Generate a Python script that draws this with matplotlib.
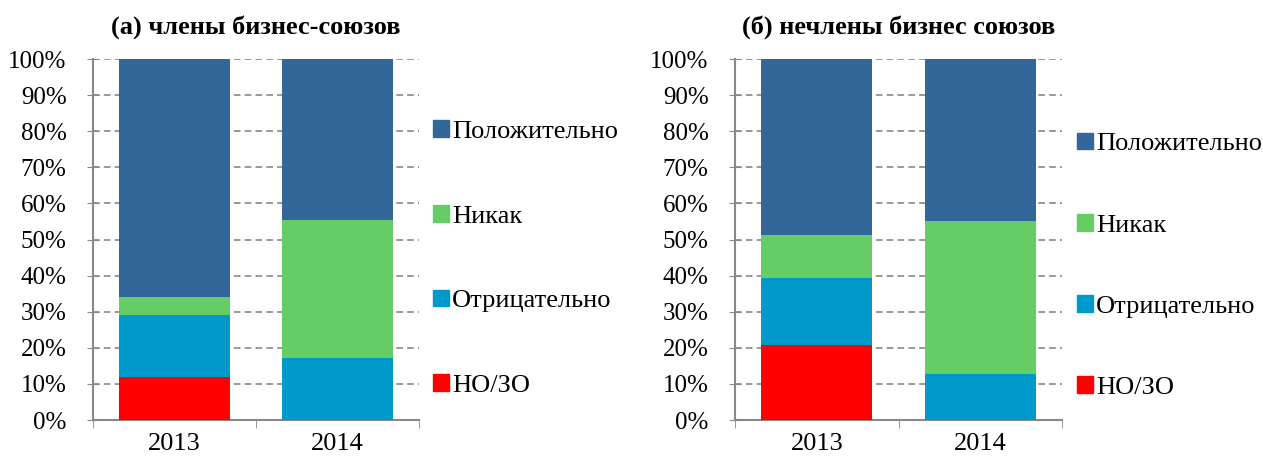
import numpy as np
import matplotlib.pyplot as plt
from matplotlib.patches import Patch

plt.rcParams['font.family'] = ['Liberation Serif', 'DejaVu Serif']

years = ['2013', '2014']
categories = ['НО/ЗО', 'Отрицательно', 'Никак', 'Положительно']
colors = ['#FF0000', '#0099CC', '#66CC66', '#336699']

# shares, % (bottom to top)
members = {
    'НО/ЗО': [12.0, 0.0],
    'Отрицательно': [17.0, 17.3],
    'Никак': [5.0, 38.1],
    'Положительно': [66.0, 44.6],
}
nonmembers = {
    'НО/ЗО': [20.8, 0.0],
    'Отрицательно': [18.6, 12.8],
    'Никак': [11.8, 42.3],
    'Положительно': [48.8, 44.9],
}

titles = ['(а) члены бизнес-союзов', '(б) нечлены бизнес союзов']

fig = plt.figure(figsize=(12.63, 4.61), dpi=100)
ax1 = fig.add_axes([93 / 1263, 1 - 420 / 461, 326 / 1263, 361 / 461])
ax2 = fig.add_axes([735 / 1263, 1 - 420 / 461, 327 / 1263, 361 / 461])

legend_y = [0.447, 0.427]
legend_x = [1.012, 1.015]
spacing = [2.35, 2.22]

for i, (ax, data) in enumerate(zip([ax1, ax2], [members, nonmembers])):
    x = np.arange(len(years))
    bottom = np.zeros(len(years))
    for cat, col in zip(categories, colors):
        vals = np.array(data[cat])
        ax.bar(x, vals, width=0.68, bottom=bottom, color=col, zorder=3)
        bottom += vals
    ax.set_xlim(-0.5, 1.5)
    ax.set_ylim(0, 100)
    ax.set_yticks(np.arange(0, 101, 10))
    ax.set_yticklabels([f'{v}%' for v in range(0, 101, 10)], fontsize=18)
    ax.set_xticks(x)
    ax.set_xticklabels(years, fontsize=19)
    ax.set_xticks([-0.5, 0.5, 1.5], minor=True)
    ax.tick_params(axis='x', which='major', length=0, pad=9)
    ax.tick_params(axis='x', which='minor', length=6, color='#888888', direction='out')
    ax.tick_params(axis='y', length=8, color='#888888', direction='inout', pad=15)
    ax.yaxis.grid(True, linestyle=(0, (4, 2.5)), color='#888888', linewidth=1.2, zorder=0)
    for s in ['top', 'right']:
        ax.spines[s].set_visible(False)
    for s in ['left', 'bottom']:
        ax.spines[s].set_color('#888888')
        ax.spines[s].set_linewidth(1.5)
    ax.set_title(titles[i], fontsize=19, fontweight='bold', pad=18)
    handles = [Patch(color=c, label=l) for c, l in zip(colors, categories)][::-1]
    ax.legend(handles=handles, loc='center left', bbox_to_anchor=(legend_x[i], legend_y[i]),
              frameon=False, fontsize=19, labelspacing=spacing[i],
              handlelength=0.6, handleheight=0.6, handletextpad=0.1, borderaxespad=0)

fig.savefig('out.png', dpi=100)
